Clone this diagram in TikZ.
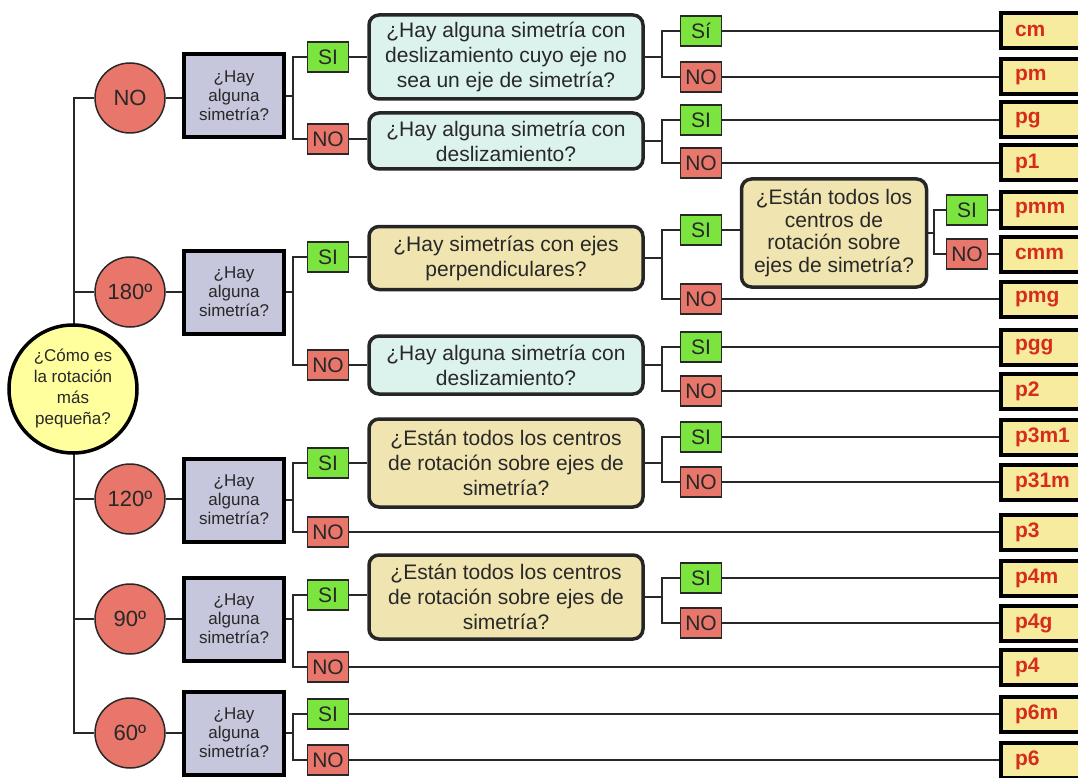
\documentclass[tikz,border=0pt]{standalone}
\usepackage{fontspec}
\setmainfont{Liberation Sans}
\definecolor{redc}{RGB}{233,118,106}
\definecolor{greenc}{RGB}{124,228,62}
\definecolor{purp}{RGB}{198,198,220}
\definecolor{teal}{RGB}{220,242,236}
\definecolor{beige}{RGB}{240,228,176}
\definecolor{resc}{RGB}{247,236,158}
\definecolor{rootc}{RGB}{255,255,158}
\definecolor{redt}{RGB}{214,44,28}
\definecolor{txt}{RGB}{40,40,40}
\definecolor{ln}{RGB}{40,40,40}
\begin{document}
\begin{tikzpicture}[x=1pt,y=-1pt,
  conn/.style={draw=ln, line width=2pt},
  rootnode/.style={circle, draw=black, line width=3.5pt, fill=rootc, minimum size=128pt, inner sep=0pt, align=center, text=txt, font=\fontsize{17}{21}\selectfont},
  rotnode/.style={circle, draw=ln, line width=1.5pt, fill=redc, minimum size=70pt, inner sep=0pt, text=txt, font=\fontsize{22}{26}\selectfont},
  simbox/.style={rectangle, draw=black, line width=4pt, fill=purp, minimum width=100pt, minimum height=83pt, inner sep=0pt, align=center, text=txt, font=\fontsize{17}{19}\selectfont},
  sibox/.style={rectangle, draw=ln, line width=1.5pt, fill=greenc, minimum width=41pt, minimum height=30pt, inner sep=0pt, text=txt, font=\fontsize{21}{24}\selectfont},
  nobox/.style={sibox, fill=redc},
  qbox/.style={rectangle, rounded corners=10pt, draw=black!85, line width=3.5pt, minimum width=274pt, inner sep=0pt, align=center, text=txt, font=\fontsize{21}{25}\selectfont},
  qteal/.style={qbox, fill=teal},
  qbeige/.style={qbox, fill=beige},
  qsmall/.style={qbox, fill=beige, minimum width=185pt, font=\fontsize{21}{22.5}\selectfont},
  resbox/.style={rectangle, draw=black, line width=4pt, fill=resc, anchor=west, minimum height=35pt, text width=90pt, inner xsep=14pt, inner ysep=0pt, align=left, text=redt, font=\fontsize{21}{24}\selectfont\bfseries}
]
\useasboundingbox (0,0) rectangle (1078,778);
\clip (0,0) rectangle (1078,778);

% root and rotation circles
\node[rotnode] (rno) at (130,98) {NO};
\node[rotnode] (r180) at (130,292) {180º};
\node[rotnode] (r120) at (130,499) {120º};
\node[rotnode] (r90) at (130,619) {90º};
\node[rotnode] (r60) at (130,733) {60º};
\coordinate (trunk) at (74,389);
\draw[conn] (rno.west) -| (trunk);
\draw[conn] (r60.west) -| (trunk);
\draw[conn] (r180.west) -- (r180.west -| trunk);
\draw[conn] (r120.west) -- (r120.west -| trunk);
\draw[conn] (r90.west) -- (r90.west -| trunk);
\node[rootnode] (root) at (73,389) {¿Cómo es\\la rotación\\más\\pequeña?};

% symmetry question boxes
\node[simbox] (sno) at (234,96) {¿Hay\\alguna\\simetría?};
\node[simbox] (s180) at (234,292) {¿Hay\\alguna\\simetría?};
\node[simbox] (s120) at (234,500) {¿Hay\\alguna\\simetría?};
\node[simbox] (s90) at (234,619) {¿Hay\\alguna\\simetría?};
\node[simbox] (s60) at (234,733) {¿Hay\\alguna\\simetría?};
\foreach \a/\b in {rno/sno,r180/s180,r120/s120,r90/s90,r60/s60}
  \draw[conn] (\a.east) -- (\a.east -| \b.west);

% SI / NO first level
\node[sibox] (a1) at (328,57) {SI};
\node[nobox] (b1) at (328,139) {NO};
\node[sibox] (a2) at (328,257) {SI};
\node[nobox] (b2) at (328,365) {NO};
\node[sibox] (a3) at (328,463) {SI};
\node[nobox] (b3) at (328,532) {NO};
\node[sibox] (a4) at (328,595) {SI};
\node[nobox] (b4) at (328,667) {NO};
\node[sibox] (a5) at (328,714) {SI};
\node[nobox] (b5) at (328,760) {NO};
\foreach \s/\a/\b in {sno/a1/b1,s180/a2/b2,s120/a3/b3,s90/a4/b4,s60/a5/b5}{
  \draw[conn] (\s.east) -- ([xshift=-14pt]\a.west |- \s.east);
  \draw[conn] (\a.west) -- ++(-14,0) |- (\b.west);
}

% question boxes column
\node[qteal, minimum height=84pt] (q1) at (506,57) {¿Hay alguna simetría con\\deslizamiento cuyo eje no\\sea un eje de simetría?};
\node[qteal, minimum height=56pt] (q2) at (506,141) {¿Hay alguna simetría con\\deslizamiento?};
\node[qbeige, minimum height=63pt] (q3) at (506,258) {¿Hay simetrías con ejes\\perpendiculares?};
\node[qteal, minimum height=58pt] (q4) at (506,365) {¿Hay alguna simetría con\\deslizamiento?};
\node[qbeige, minimum height=88pt] (q5) at (506,463) {¿Están todos los centros\\de rotación sobre ejes de\\simetría?};
\node[qbeige, minimum height=84pt] (q6) at (506,597) {¿Están todos los centros\\de rotación sobre ejes de\\simetría?};
\foreach \a/\q in {a1/q1,b1/q2,a2/q3,b2/q4,a3/q5,a4/q6}
  \draw[conn] (\a.east) -- (\a.east -| \q.west);

% SI / NO second level
\node[sibox] (c1) at (701,31) {Sí};
\node[nobox] (d1) at (701,77) {NO};
\node[sibox] (c2) at (701,120) {SI};
\node[nobox] (d2) at (701,163) {NO};
\node[sibox] (c3) at (701,230) {SI};
\node[nobox] (d3) at (701,299) {NO};
\node[sibox] (c4) at (701,347) {SI};
\node[nobox] (d4) at (701,391) {NO};
\node[sibox] (c5) at (701,437) {SI};
\node[nobox] (d5) at (701,482) {NO};
\node[sibox] (c6) at (701,578) {SI};
\node[nobox] (d6) at (701,623) {NO};
\foreach \q/\a/\b in {q1/c1/d1,q2/c2/d2,q3/c3/d3,q4/c4/d4,q5/c5/d5,q6/c6/d6}{
  \draw[conn] (\q.east) -- ([xshift=-18pt]\a.west |- \q.east);
  \draw[conn] (\a.west) -- ++(-18,0) |- (\b.west);
}

% inner question
\node[qsmall, minimum height=108pt] (q7) at (834,233) {¿Están todos los\\centros de\\rotación sobre\\ejes de simetría?};
\draw[conn] (c3.east) -- (c3.east -| q7.west);
\node[sibox] (e1) at (967,210) {SI};
\node[nobox] (f1) at (967,254) {NO};
\draw[conn] (q7.east) -- ([xshift=-12pt]e1.west |- q7.east);
\draw[conn] (e1.west) -- ++(-12,0) |- (f1.west);

% results
\node[resbox] (cm) at (999,31) {cm};
\node[resbox] (pm) at (999,77) {pm};
\node[resbox] (pg) at (999,120) {pg};
\node[resbox] (p1) at (999,163) {p1};
\node[resbox] (pmm) at (999,210) {pmm};
\node[resbox] (cmm) at (999,254) {cmm};
\node[resbox] (pmg) at (999,299) {pmg};
\node[resbox] (pgg) at (999,347) {pgg};
\node[resbox] (p2) at (999,391) {p2};
\node[resbox] (p3m1) at (999,437) {p3m1};
\node[resbox] (p31m) at (999,482) {p31m};
\node[resbox] (p3) at (999,532) {p3};
\node[resbox] (p4m) at (999,578) {p4m};
\node[resbox] (p4g) at (999,623) {p4g};
\node[resbox] (p4) at (999,667) {p4};
\node[resbox] (p6m) at (999,714) {p6m};
\node[resbox] (p6) at (999,760) {p6};
\foreach \a/\r in {c1/cm,d1/pm,c2/pg,d2/p1,e1/pmm,f1/cmm,d3/pmg,c4/pgg,d4/p2,c5/p3m1,d5/p31m,b3/p3,c6/p4m,d6/p4g,b4/p4,a5/p6m,b5/p6}
  \draw[conn] (\a.east) -- (\a.east -| \r.west);
\end{tikzpicture}
\end{document}
